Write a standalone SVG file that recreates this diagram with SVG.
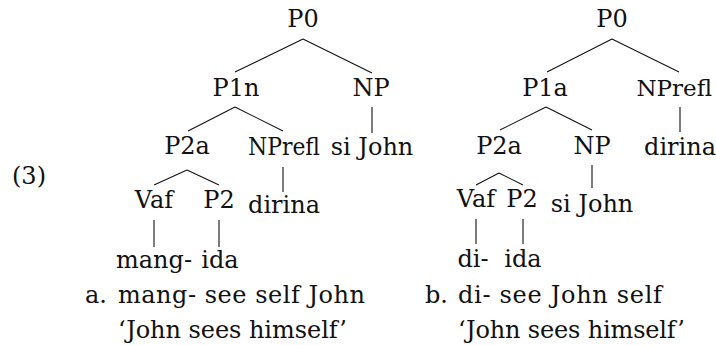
<svg xmlns="http://www.w3.org/2000/svg" width="716" height="345" viewBox="0 0 716 345">
<style>
text { font-family: "DejaVu Serif", "Liberation Serif", serif; font-size: 24px; fill: #111; }
.c { text-anchor: middle; }
.edge { stroke: #111; stroke-width: 1.1; fill: none; }
</style>
<rect width="716" height="345" fill="#fff"/>
<g id="connectors">
  <path class="edge" d="M303,39 L235,72 M303,39 L372,73"/>
  <path class="edge" d="M235,107 L188,131 M235,107 L283,131"/>
  <path class="edge" d="M372,107 L372,133"/>
  <path class="edge" d="M187,170 L154,185 M187,170 L219,185"/>
  <path class="edge" d="M283,167 L283,192"/>
  <path class="edge" d="M154,220 L154,247 M219,220 L219,247"/>
  <path class="edge" d="M612,39 L547,72 M612,39 L679,72"/>
  <path class="edge" d="M546,107 L500,130 M546,107 L592,130"/>
  <path class="edge" d="M680,107 L680,132"/>
  <path class="edge" d="M592,165 L592,188"/>
  <path class="edge" d="M499,173 L476,185 M499,173 L523,185"/>
  <path class="edge" d="M476,219 L476,244 M523,219 L523,244"/>
</g>
<g id="ex-number"><text x="12" y="184">(3)</text></g>
<g id="a-P0"><text class="c" x="303" y="27">P0</text></g>
<g id="a-P1n"><text class="c" x="236" y="96">P1n</text></g>
<g id="a-NP"><text class="c" x="371" y="96">NP</text></g>
<g id="a-P2a"><text class="c" x="187" y="154">P2a</text></g>
<g id="a-NPrefl"><text class="c" x="284" y="155" textLength="72" lengthAdjust="spacingAndGlyphs">NPrefl</text></g>
<g id="a-siJohn"><text class="c" x="372" y="155">si John</text></g>
<g id="a-Vaf"><text class="c" x="154" y="208">Vaf</text></g>
<g id="a-P2"><text class="c" x="219" y="208">P2</text></g>
<g id="a-dirina"><text class="c" x="284" y="213">dirina</text></g>
<g id="a-mang"><text class="c" x="154" y="268">mang-</text></g>
<g id="a-ida"><text class="c" x="220" y="268">ida</text></g>
<g id="b-P0"><text class="c" x="612" y="27">P0</text></g>
<g id="b-P1a"><text class="c" x="545" y="96">P1a</text></g>
<g id="b-NPrefl"><text x="712" y="96" text-anchor="end" style="font-size:23px">NPrefl</text></g>
<g id="b-P2a"><text class="c" x="499" y="154">P2a</text></g>
<g id="b-NP"><text class="c" x="592" y="154">NP</text></g>
<g id="b-dirina"><text class="c" x="680" y="155">dirina</text></g>
<g id="b-Vaf"><text class="c" x="476" y="207">Vaf</text></g>
<g id="b-P2"><text class="c" x="522" y="207">P2</text></g>
<g id="b-siJohn"><text class="c" x="592" y="212">si John</text></g>
<g id="b-di"><text class="c" x="473" y="267">di-</text></g>
<g id="b-ida"><text class="c" x="523" y="267">ida</text></g>
<g id="gloss-a">
  <text x="85" y="303">a.</text>
  <text x="118" y="303" textLength="247">mang- see self John</text>
  <text x="118" y="338" textLength="229">‘John sees himself’</text>
</g>
<g id="gloss-b">
  <text x="425" y="303">b.</text>
  <text x="458" y="303" textLength="204">di- see John self</text>
  <text x="458" y="338" textLength="227">‘John sees himself’</text>
</g>
</svg>
